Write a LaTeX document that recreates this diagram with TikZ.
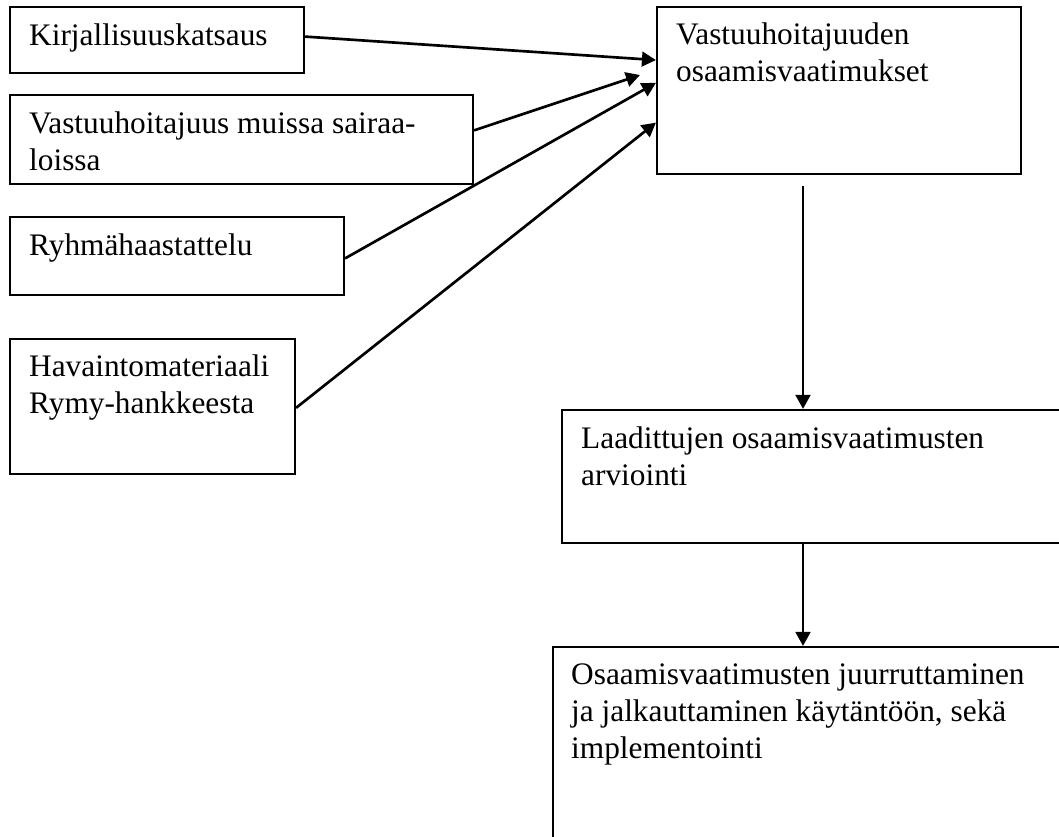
\documentclass[tikz,border=0pt]{standalone}
\usepackage{fontspec}
\setmainfont{Liberation Serif}
\usetikzlibrary{arrows.meta,calc,fit}
\begin{document}
\begin{tikzpicture}[x=0.75pt,y=-0.75pt,
  box/.style={draw, line width=1.6pt, inner sep=0pt},
  lbl/.style={anchor=base west, align=left, inner sep=0pt, font=\fontsize{23.5}{27.75}\selectfont},
  conn/.style={line width=2pt, -{Triangle[length=10.5pt,width=11pt]}}]
\useasboundingbox (0,0) rectangle (1059,836);
\clip (0,0) rectangle (1059,836);
% boxes
\node (b1) [box, fit={(10,7) (304,73)}] {};
\node (b2) [box, fit={(10,95) (473,184)}] {};
\node (b3) [box, fit={(10,217) (344,295)}] {};
\node (b4) [box, fit={(10,339) (295,474)}] {};
\node (top) [box, fit={(657,7) (1021,174)}] {};
\node (mid) [box, fit={(562,410) (1080,543)}] {};
\node (bot) [box, fit={(553,647) (1080,870)}] {};
% texts (base anchor = baseline of the last line)
\node (t1) [lbl] at ($(b1.north west)+(20,40)$) {Kirjallisuuskatsaus};
\node (t2) [lbl] at ($(b2.north west)+(20,77)$) {Vastuuhoitajuus muissa sairaa-\\loissa};
\node (t3) [lbl] at ($(b3.north west)+(20,40)$) {Ryhmähaastattelu};
\node (t4) [lbl] at ($(b4.north west)+(20,76)$) {Havaintomateriaali\\Rymy-hankkeesta};
\node (t5) [lbl] at ($(top.north west)+(20,76)$) {Vastuuhoitajuuden\\osaamisvaatimukset};
\node (t6) [lbl] at ($(mid.north west)+(20,77)$) {Laadittujen osaamisvaatimusten\\arviointi};
\node (t7) [lbl] at ($(bot.north west)+(19,113)$) {Osaamisvaatimusten juurruttaminen\\ja jalkauttaminen käytäntöön, sekä\\implementointi};
% connectors
\coordinate (e2) at (640,75);
\coordinate (v1) at (803,186);
\draw[conn] ($(b1.north east)!0.45!(b1.south east)$) -- ($(top.north west)!0.32!(top.south west)$);
\draw[conn] ($(b2.north east)!0.40!(b2.south east)$) -- (e2);
\draw[conn] ($(b3.north east)!0.53!(b3.south east)$) -- ($(top.north west)!0.455!(top.south west)$);
\draw[conn] ($(b4.north east)!0.51!(b4.south east)$) -- ($(top.north west)!0.69!(top.south west)$);
\draw[conn] (v1) -- (v1 |- mid.north);
\draw[conn] (mid.south -| v1) -- (v1 |- bot.north);
\end{tikzpicture}
\end{document}
